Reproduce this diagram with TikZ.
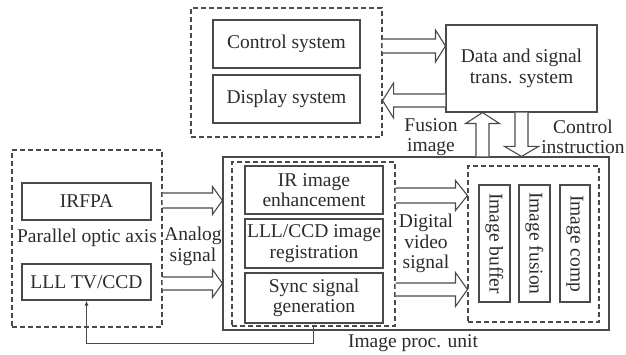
\documentclass[tikz,border=0pt]{standalone}
\usepackage{fontspec}
\setmainfont{Liberation Serif}
\usetikzlibrary{calc,arrows.meta}
\definecolor{ln}{HTML}{4A4A4A}
\definecolor{tx}{HTML}{2B2B2B}
\tikzset{
  txt/.style={inner sep=0pt, align=center, text=tx, font=\fontsize{19.5}{20.5}\selectfont},
  solidbox/.style={txt, draw=ln, line width=1.1pt},
  dashbox/.style={solidbox, dash pattern=on 5pt off 3pt},
  harrow/.style={draw=ln, line width=1.1pt, fill=white, line join=miter},
  conn/.style={draw=ln, line width=1.1pt},
}
% hollow block arrows: #1 start, #2 tip, #3 shaft half width, #4 head half width, #5 head length
\newcommand\HArrR[5]{\draw[harrow] ($(#1)+(0,-#3)$) -- ($(#2)+(-#5,-#3)$) -- ($(#2)+(-#5,-#4)$) -- (#2) -- ($(#2)+(-#5,#4)$) -- ($(#2)+(-#5,#3)$) -- ($(#1)+(0,#3)$);}
\newcommand\HArrL[5]{\draw[harrow] ($(#1)+(0,-#3)$) -- ($(#2)+(#5,-#3)$) -- ($(#2)+(#5,-#4)$) -- (#2) -- ($(#2)+(#5,#4)$) -- ($(#2)+(#5,#3)$) -- ($(#1)+(0,#3)$);}
\newcommand\HArrU[5]{\draw[harrow] ($(#1)+(-#3,0)$) -- ($(#2)+(-#3,#5)$) -- ($(#2)+(-#4,#5)$) -- (#2) -- ($(#2)+(#4,#5)$) -- ($(#2)+(#3,#5)$) -- ($(#1)+(#3,0)$);}
\newcommand\HArrD[5]{\draw[harrow] ($(#1)+(-#3,0)$) -- ($(#2)+(-#3,-#5)$) -- ($(#2)+(-#4,-#5)$) -- (#2) -- ($(#2)+(#4,-#5)$) -- ($(#2)+(#3,-#5)$) -- ($(#1)+(#3,0)$);}
\begin{document}
\begin{tikzpicture}[x=1pt, y=-1pt]
\useasboundingbox[fill=white] (0,0) rectangle (626,355);

% top group
\node[dashbox, minimum width=191pt, minimum height=129pt] (topdash) at (286.5,72.5) {};
\node[solidbox, minimum width=147pt, minimum height=48pt] (ctrl) at (286.5,44) {Control system};
\node[solidbox, minimum width=147pt, minimum height=48pt] (disp) at (286.5,99) {Display system};
\node[solidbox, minimum width=151pt, minimum height=87pt] (data) at (521.5,68.5) {Data and signal\\trans. system};

% left group
\node[dashbox, minimum width=150pt, minimum height=177pt] (leftdash) at (87,238.5) {};
\node[solidbox, minimum width=129pt, minimum height=37pt] (irfpa) at (86.5,201.5) {IRFPA};
\node[solidbox, minimum width=129pt, minimum height=36pt] (lll) at (86.5,282) {LLL TV/CCD};
\node[txt] (poa) at (87,238) {Parallel optic axis};
\node[txt] (analog) at (193,246.5) {Analog\\signal};

% image processing unit
\node[solidbox, minimum width=386pt, minimum height=173pt] (proc) at (416,243.5) {};
\node[dashbox, minimum width=163pt, minimum height=164pt] (inner) at (313.5,244) {};
\node[solidbox, minimum width=138pt, minimum height=48pt] (ir) at (314,190) {IR image\\enhancement};
\node[solidbox, minimum width=138pt, minimum height=49pt] (reg) at (314,243.5) {LLL/CCD image\\registration};
\node[solidbox, minimum width=138pt, minimum height=50pt] (sync) at (314,298) {Sync signal\\generation};
\node[dashbox, minimum width=131pt, minimum height=156pt] (rightdash) at (533.5,244) {};
\node[solidbox, minimum width=31pt, minimum height=117pt] (buffer) at (494.5,243.5) {};
\node[txt, rotate=-90] (bufferT) at (buffer.center) {Image buffer};
\node[solidbox, minimum width=31pt, minimum height=117pt] (fusion) at (534.5,243.5) {};
\node[txt, rotate=-90] (fusionT) at (fusion.center) {Image fusion};
\node[solidbox, minimum width=30pt, minimum height=117pt] (comp) at (575,243.5) {};
\node[txt, rotate=-90] (compT) at (comp.center) {Image comp};
\node[txt] (digital) at (426,243.5) {Digital\\video\\signal};
\node[txt] (procT) at (413,343) {Image proc. unit};

% labels between data and proc
\node[txt] (fusionL) at (431,137) {Fusion\\image};
\node[txt] (ctrlL) at (583,137) {Control\\instruction};

% arrow end coordinates
\path (topdash.east |- ctrl.center) ++(0,2) coordinate (a1s);
\path (data.west |- a1s) coordinate (a1t);
\path (data.west |- disp.center) ++(0,1.5) coordinate (a2s);
\path (topdash.east |- a2s) coordinate (a2t);
\path (data.south) ++(-39,0) coordinate (a3t);
\path (proc.north -| a3t) coordinate (a3s);
\path (data.south) coordinate (a4s);
\path (proc.north -| a4s) coordinate (a4t);
\path (leftdash.east |- irfpa.center) ++(0,-1) coordinate (a5s);
\path (proc.west |- a5s) coordinate (a5t);
\path (leftdash.east |- lll.center) ++(0,1.5) coordinate (a6s);
\path (proc.west |- a6s) coordinate (a6t);
\path (inner.east |- ir.center) ++(0,5.5) coordinate (a7s);
\path (rightdash.west |- a7s) coordinate (a7t);
\path (inner.east |- sync.center) ++(0,-8.5) coordinate (a8s);
\path (rightdash.west |- a8s) coordinate (a8t);

\HArrR{a1s}{a1t}{7}{16}{10}
\HArrL{a2s}{a2t}{6.5}{17.5}{11}
\HArrU{a3s}{a3t}{6.5}{17}{11}
\HArrD{a4s}{a4t}{6.5}{17}{10}
\HArrR{a5s}{a5t}{7.5}{14}{10}
\HArrR{a6s}{a6t}{6.5}{14}{10}
\HArrR{a7s}{a7t}{7.5}{15}{12}
\HArrR{a8s}{a8t}{6.5}{17}{12}

% feedback
\draw[conn, -{Latex[length=5pt,width=4pt]}] (inner.south) -- ++(0,17) -| (lll.south);
\end{tikzpicture}
\end{document}
